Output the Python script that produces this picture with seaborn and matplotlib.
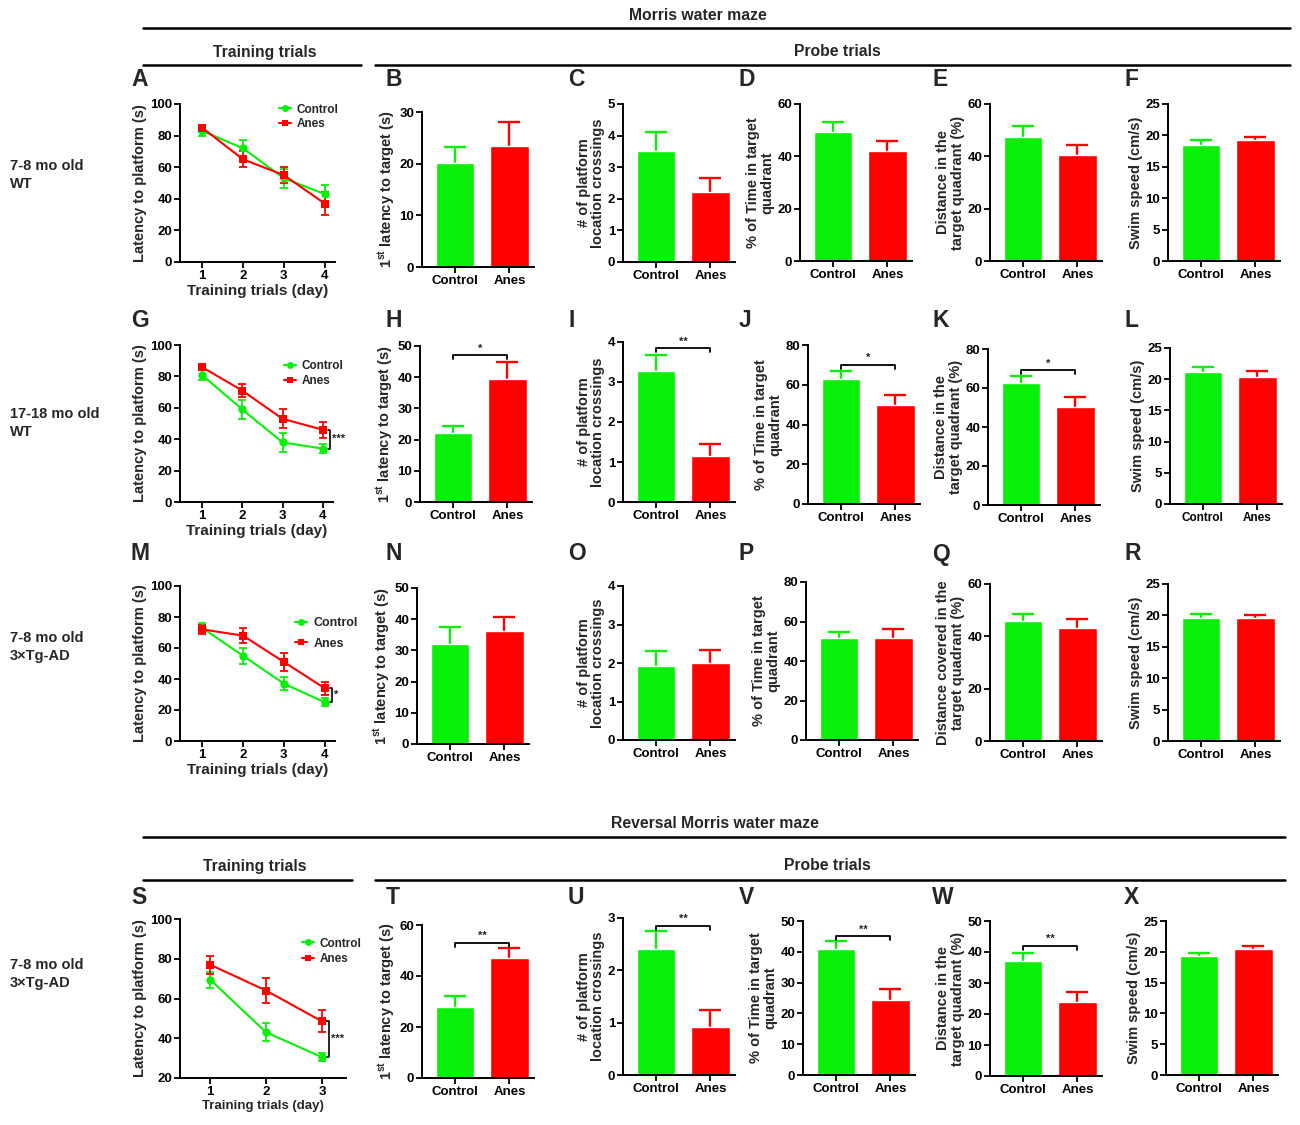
import numpy as np
import pandas as pd
import matplotlib
matplotlib.use("Agg")
import matplotlib.pyplot as plt
import seaborn as sns
from matplotlib.lines import Line2D

# ---------------- data ----------------
GROUPS = ["Control", "Anes"]
DAYS4 = [1, 2, 3, 4]
DAYS3 = [1, 2, 3]

# Row 1: 7-8 mo old WT
A_ctrl = [83, 72, 53, 43]; A_ctrl_err = [3, 5, 6, 6]
A_anes = [85, 65, 55, 37]; A_anes_err = [2, 5, 5, 7]
B_mean = [20.2, 23.4]; B_err = [3.0, 4.7]
C_mean = [3.5, 2.2];   C_err = [0.6, 0.45]
D_mean = [49.2, 42.0]; D_err = [4.0, 4.0]
E_mean = [47.2, 40.5]; E_err = [4.4, 3.7]
F_mean = [18.5, 19.3]; F_err = [0.7, 0.5]

# Row 2: 17-18 mo old WT
G_ctrl = [81, 59, 38, 34]; G_ctrl_err = [3, 6, 6, 3]
G_anes = [86, 71, 53, 46]; G_anes_err = [2, 4, 6, 5]
H_mean = [22.0, 39.5]; H_err = [2.3, 5.5]
I_mean = [3.28, 1.15]; I_err = [0.4, 0.3]
J_mean = [63.0, 50.0]; J_err = [4.0, 5.0]
K_mean = [62.5, 50.5]; K_err = [3.8, 4.8]
L_mean = [21.1, 20.3]; L_err = [0.8, 1.0]

# Row 3: 7-8 mo old 3xTg-AD
M_ctrl = [73, 55, 37, 25]; M_ctrl_err = [3, 5, 4, 2.5]
M_anes = [72, 68, 51, 34]; M_anes_err = [3, 5, 6, 4]
N_mean = [32.0, 36.3]; N_err = [5.5, 4.3]
O_mean = [1.92, 2.0];  O_err = [0.4, 0.33]
P_mean = [51.5, 51.5]; P_err = [3.0, 4.5]
Q_mean = [45.7, 43.3]; Q_err = [2.7, 3.3]
R_mean = [19.6, 19.6]; R_err = [0.6, 0.5]

# Row 4: reversal, 7-8 mo old 3xTg-AD
S_ctrl = [69.5, 43, 30.5]; S_ctrl_err = [4, 4.5, 2]
S_anes = [77, 64, 48.5];   S_anes_err = [4.5, 6.5, 5.5]
T_mean = [28.0, 47.0]; T_err = [4.0, 4.0]
U_mean = [2.4, 0.92];  U_err = [0.35, 0.33]
V_mean = [41.0, 24.5]; V_err = [2.5, 3.5]
W_mean = [37.0, 24.0]; W_err = [2.8, 3.2]
X_mean = [19.3, 20.5]; X_err = [0.5, 0.4]

# ---------------- style ----------------
sns.set_theme(style="ticks")
plt.rcParams["font.family"] = ["Liberation Sans", "DejaVu Sans"]
plt.rcParams["font.weight"] = "bold"
plt.rcParams["axes.labelweight"] = "bold"
plt.rcParams["mathtext.fontset"] = "custom"
plt.rcParams["mathtext.bf"] = "Liberation Sans:bold"
plt.rcParams["mathtext.rm"] = "Liberation Sans:bold"

GREEN = "#08f008"
RED = "#ff0000"
PAL = {"Control": GREEN, "Anes": RED}

WPX, HPX = 1300, 1125
fig = plt.figure(figsize=(WPX / 100, HPX / 100), dpi=100)


def px_axes(L, R, top, bottom):
    return fig.add_axes([L / WPX, 1 - bottom / HPX, (R - L) / WPX, (bottom - top) / HPX])


def style(ax, yticks, fs=9.5):
    for s in ["top", "right"]:
        ax.spines[s].set_visible(False)
    for s in ["left", "bottom"]:
        ax.spines[s].set_linewidth(1.4)
        ax.spines[s].set_color("black")
    ax.set_yticks(yticks)
    ax.set_ylim(yticks[0], yticks[-1])
    ax.tick_params(axis="both", direction="out", length=4, width=1.3,
                   colors="black", labelsize=fs, pad=1.5)
    for lab in ax.get_xticklabels() + ax.get_yticklabels():
        lab.set_fontweight("bold")


def fig_text(x, y, s, **kw):
    fig.text(x / WPX, 1 - y / HPX, s, **kw)


def hline(x0, x1, y, lw=1.8):
    fig.add_artist(Line2D([x0 / WPX, x1 / WPX], [1 - y / HPX, 1 - y / HPX],
                          color="black", lw=lw))


def bar_panel(L, top, bottom, means, errs, yticks, ylabel, sig=None, sig_y=None,
              width_px=112, xfs=9.5, lfs=10.5):
    ax = px_axes(L, L + width_px, top, bottom)
    df = pd.DataFrame({"group": GROUPS, "value": means})
    sns.barplot(data=df, x="group", y="value", hue="group", palette=PAL,
                saturation=1, errorbar=None, width=0.7, legend=False, ax=ax,
                zorder=2)
    for i, g in enumerate(GROUPS):
        top_v = means[i] + errs[i]
        ax.plot([i, i], [means[i], top_v], color=PAL[g], lw=1.7, zorder=1,
                clip_on=False, solid_capstyle="butt")
        ax.plot([i - 0.2, i + 0.2], [top_v, top_v], color=PAL[g], lw=1.7,
                zorder=1, clip_on=False, solid_capstyle="butt")
    ax.set_xlim(-0.6, 1.45)
    style(ax, yticks)
    ax.tick_params(axis="x", labelsize=xfs, pad=2)
    ax.set_xlabel("")
    ax.set_ylabel(ylabel, fontsize=lfs, fontweight="bold", labelpad=2,
                  linespacing=1.05)
    if sig:
        span = yticks[-1] - yticks[0]
        d = 0.025 * span
        ax.plot([0, 0, 1, 1], [sig_y - d, sig_y, sig_y, sig_y - d], color="black",
                lw=1.3, clip_on=False)
        ax.text(0.5, sig_y + 0.01 * span, sig, ha="center", va="bottom",
                fontsize=8, fontweight="bold")
    return ax


def line_panel(L, R, top, bottom, days, ctrl, cerr, anes, aerr, yticks, xlim,
               sig, sig_x, leg_anchor, leg_fs=8.5, leg_sp=0.2, xl_fs=11):
    ax = px_axes(L, R, top, bottom)
    rows = []
    for g, vals in (("Control", ctrl), ("Anes", anes)):
        for d, v in zip(days, vals):
            rows.append({"day": d, "lat": v, "group": g})
    df = pd.DataFrame(rows)
    for g, vals, er in (("Control", ctrl, cerr), ("Anes", anes, aerr)):
        ax.errorbar(days, vals, yerr=er, fmt="none", ecolor=PAL[g], elinewidth=1.3,
                    capsize=3, capthick=1.3, zorder=2)
    sns.lineplot(data=df, x="day", y="lat", hue="group", style="group",
                 palette=PAL, markers={"Control": "o", "Anes": "s"}, dashes=False,
                 markersize=6, markeredgewidth=0, linewidth=1.5, legend=False,
                 ax=ax, zorder=3)
    ax.set_xticks(days)
    ax.set_xlim(*xlim)
    style(ax, yticks)
    ax.set_ylabel("Latency to platform (s)", fontsize=10.5, fontweight="bold",
                  labelpad=2)
    ax.set_xlabel("Training trials (day)", fontsize=xl_fs, fontweight="bold",
                  labelpad=2)
    handles = [Line2D([], [], color=GREEN, marker="o", markersize=5, lw=1.5,
                      markeredgewidth=0),
               Line2D([], [], color=RED, marker="s", markersize=5, lw=1.5,
                      markeredgewidth=0)]
    ax.legend(handles, GROUPS, frameon=False, loc="upper left",
              bbox_to_anchor=leg_anchor, fontsize=leg_fs, handlelength=1.0,
              handletextpad=0.5, labelspacing=leg_sp, borderpad=0)
    if sig:
        lo, hi = ctrl[-1], anes[-1]
        ax.plot([sig_x - 0.06, sig_x, sig_x, sig_x - 0.06], [lo, lo, hi, hi],
                color="black", lw=1.2, clip_on=False)
        ax.text(sig_x + 0.04, (lo + hi) / 2, sig, ha="left", va="center",
                fontsize=8, fontweight="bold", clip_on=False)
    return ax


# ---------------- headers ----------------
HDR = dict(ha="center", va="center", fontsize=11.3, fontweight="bold")
fig_text(698, 15, "Morris water maze", **HDR)
hline(143, 1290, 28)
fig_text(265, 52, "Training trials", **HDR)
hline(143, 361, 65)
fig_text(837, 52, "Probe trials", **HDR)
hline(375, 1290, 65)
fig_text(715, 823, "Reversal Morris water maze", **HDR)
hline(143, 1285, 837)
fig_text(255, 866, "Training trials", **HDR)
hline(143, 352, 880)
fig_text(827, 866, "Probe trials", **HDR)
hline(375, 1285, 880)

ROWLAB = dict(ha="left", va="center", fontsize=10.5, fontweight="bold",
              linespacing=1.3)
fig_text(10, 175, "7-8 mo old\nWT", **ROWLAB)
fig_text(10, 423, "17-18 mo old\nWT", **ROWLAB)
fig_text(10, 647, "7-8 mo old\n3\u00d7Tg-AD", **ROWLAB)
fig_text(10, 974, "7-8 mo old\n3\u00d7Tg-AD", **ROWLAB)

LET = dict(ha="left", va="center", fontsize=16.5, fontweight="bold")
LETX = [131, 386, 568, 739, 932, 1124]
for row_y, letters in ((80, "ABCDEF"), (320, "GHIJKL"), (554, "MNOPQR"), (897, "STUVWX")):
    for x, ch in zip(LETX, letters):
        fig_text(x, row_y, ch, **LET)

FIRST = r"$\mathbf{1^{st}}$ latency to target (s)"
CROSS = "# of platform\nlocation crossings"
TIME = "% of Time in target\nquadrant"
DIST = "Distance in the\ntarget quadrant (%)"
DISTC = "Distance covered in the\ntarget quadrant (%)"
SWIM = "Swim speed (cm/s)"

# ---------------- row 1 ----------------
line_panel(180, 335, 104, 262, DAYS4, A_ctrl, A_ctrl_err, A_anes, A_anes_err,
           [0, 20, 40, 60, 80, 100], (0.46, 4.25), "", 9, (0.6, 1.04))
bar_panel(422, 112, 267, B_mean, B_err, [0, 10, 20, 30], FIRST)
bar_panel(623, 104, 262, C_mean, C_err, [0, 1, 2, 3, 4, 5], CROSS)
bar_panel(800, 104, 261, D_mean, D_err, [0, 20, 40, 60], TIME)
bar_panel(990, 104, 261, E_mean, E_err, [0, 20, 40, 60], DIST)
bar_panel(1168, 104, 261, F_mean, F_err, [0, 5, 10, 15, 20, 25], SWIM)

# ---------------- row 2 ----------------
line_panel(180, 333, 345, 502, DAYS4, G_ctrl, G_ctrl_err, G_anes, G_anes_err,
           [0, 20, 40, 60, 80, 100], (0.46, 4.25), "***", 4.18, (0.64, 0.94))
bar_panel(420, 346, 502, H_mean, H_err, [0, 10, 20, 30, 40, 50], FIRST, "*", 47)
bar_panel(623, 342, 502, I_mean, I_err, [0, 1, 2, 3, 4], CROSS, "**", 3.85)
bar_panel(808, 345, 504, J_mean, J_err, [0, 20, 40, 60, 80], TIME, "*", 70)
bar_panel(988, 349, 505, K_mean, K_err, [0, 20, 40, 60, 80], DIST, "*", 69)
bar_panel(1170, 348, 504, L_mean, L_err, [0, 5, 10, 15, 20, 25], SWIM, xfs=8.5)

# ---------------- row 3 ----------------
line_panel(180, 335, 586, 741, DAYS4, M_ctrl, M_ctrl_err, M_anes, M_anes_err,
           [0, 20, 40, 60, 80, 100], (0.46, 4.25), "*", 4.18, (0.7, 0.84),
           leg_fs=9, leg_sp=0.7)
bar_panel(417, 588, 744, N_mean, N_err, [0, 10, 20, 30, 40, 50], FIRST)
bar_panel(623, 586, 740, O_mean, O_err, [0, 1, 2, 3, 4], CROSS)
bar_panel(806, 582, 740, P_mean, P_err, [0, 20, 40, 60, 80], TIME)
bar_panel(990, 584, 741, Q_mean, Q_err, [0, 20, 40, 60], DISTC)
bar_panel(1168, 584, 741, R_mean, R_err, [0, 5, 10, 15, 20, 25], SWIM)

# ---------------- row 4 ----------------
line_panel(180, 346, 919, 1078, DAYS3, S_ctrl, S_ctrl_err, S_anes, S_anes_err,
           [20, 40, 60, 80, 100], (0.46, 3.43), "***", 3.12, (0.7, 0.92),
           leg_fs=8.5, leg_sp=0.3, xl_fs=9.5)
bar_panel(422, 925, 1078, T_mean, T_err, [0, 20, 40, 60], FIRST, "**", 53)
bar_panel(623, 918, 1075, U_mean, U_err, [0, 1, 2, 3], CROSS, "**", 2.85)
bar_panel(803, 921, 1075, V_mean, V_err, [0, 10, 20, 30, 40, 50], TIME, "**", 45)
bar_panel(990, 921, 1076, W_mean, W_err, [0, 10, 20, 30, 40, 50], DIST, "**", 42)
bar_panel(1166, 921, 1075, X_mean, X_err, [0, 5, 10, 15, 20, 25], SWIM)

fig.savefig("out.png", dpi=100)
